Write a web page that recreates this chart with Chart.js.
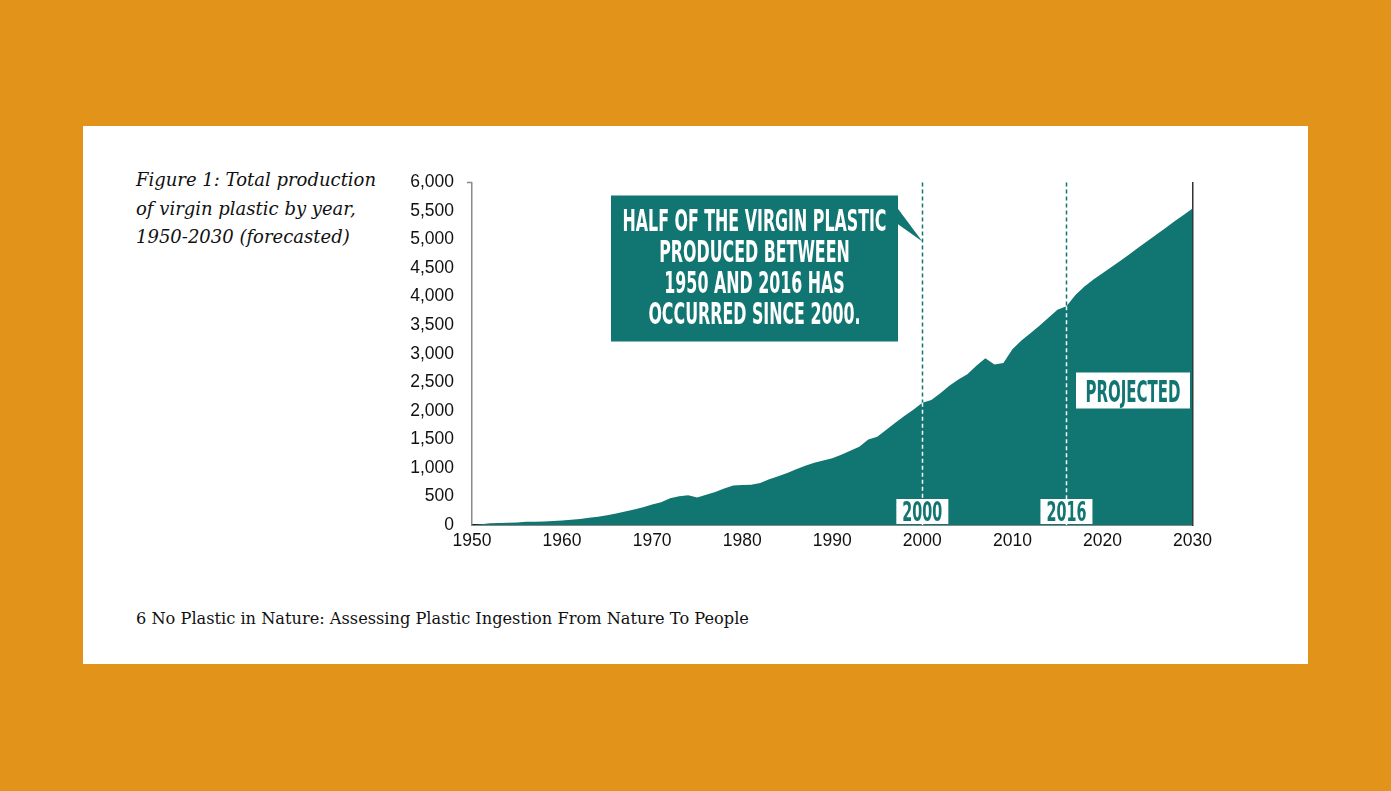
<!DOCTYPE html>
<html>
<head>
<meta charset="utf-8">
<script src="https://cdn.jsdelivr.net/npm/chart.js@4.4.1/dist/chart.umd.min.js"></script>
<style>
  html, body { margin: 0; padding: 0; }
  body { width: 1391px; height: 791px; background: #E2931A; position: relative; overflow: hidden; }
  #panel { position: absolute; left: 83px; top: 126px; width: 1225px; height: 538px; background: #fff; }
  #caption { position: absolute; left: 136px; top: 166px; font-family: "DejaVu Serif", serif; font-style: italic;
             font-size: 18px; line-height: 28.5px; color: #111; }
  #footer { position: absolute; left: 136px; top: 609px; font-family: "DejaVu Serif", serif; font-size: 16.2px; color: #111; }
  #wrap { position: absolute; left: 382px; top: 154px; width: 836px; height: 406px; }
</style>
</head>
<body>
<div id="panel"></div>
<div id="caption">Figure 1: Total production<br>of virgin plastic by year,<br>1950-2030 (forecasted)</div>
<div id="footer">6 No Plastic in Nature: Assessing Plastic Ingestion From Nature To People</div>
<div id="wrap"><canvas id="chart"></canvas></div>

<script>
// --- data ---
const years = [
  1950, 1951, 1952, 1953, 1954, 1955, 1956, 1957, 1958, 1959,
  1960, 1961, 1962, 1963, 1964, 1965, 1966, 1967, 1968, 1969,
  1970, 1971, 1972, 1973, 1974, 1975, 1976, 1977, 1978, 1979,
  1980, 1981, 1982, 1983, 1984, 1985, 1986, 1987, 1988, 1989,
  1990, 1991, 1992, 1993, 1994, 1995, 1996, 1997, 1998, 1999,
  2000, 2001, 2002, 2003, 2004, 2005, 2006, 2007, 2008, 2009,
  2010, 2011, 2012, 2013, 2014, 2015, 2016, 2017, 2018, 2019,
  2020, 2021, 2022, 2023, 2024, 2025, 2026, 2027, 2028, 2029, 2030
];
const production = [
  2, 15, 30, 35, 38, 42, 55, 58, 62, 70,
  80, 90, 105, 125, 145, 170, 200, 235, 270, 310,
  360, 400, 470, 505, 520, 480, 530, 580, 640, 690,
  700, 705, 735, 800, 855, 910, 975, 1040, 1090, 1130,
  1170, 1230, 1300, 1370, 1500, 1545, 1670, 1790, 1910, 2020,
  2140, 2190, 2310, 2440, 2550, 2640, 2790, 2920, 2810, 2840,
  3080, 3230, 3360, 3490, 3630, 3770, 3830, 4030, 4180, 4300,
  4410, 4520, 4630, 4745, 4860, 4975, 5090, 5205, 5320, 5430, 5545
];
const xTicks = [1950, 1960, 1970, 1980, 1990, 2000, 2010, 2020, 2030];
const yTicks = [0, 500, 1000, 1500, 2000, 2500, 3000, 3500, 4000, 4500, 5000, 5500, 6000];
const markerYears = [2000, 2016];
const calloutLines = ["HALF OF THE VIRGIN PLASTIC", "PRODUCED BETWEEN", "1950 AND 2016 HAS", "OCCURRED SINCE 2000."];
const projectedLabel = "PROJECTED";

const TEAL = "#117571";
const INK = "#111";
const CONDENSED = '"Liberation Sans Narrow", "DejaVu Sans Condensed", "Liberation Sans", sans-serif';

// draw squeezed bold caps so they look like the poster's condensed face
function condensedText(ctx, text, cx, cy, capH, scaleX) {
  const size = capH / 0.72;
  ctx.save();
  ctx.font = "bold " + size + "px " + CONDENSED;
  ctx.textAlign = "center";
  ctx.textBaseline = "alphabetic";
  ctx.translate(cx, cy + capH / 2);
  ctx.scale(scaleX, 1);
  ctx.fillText(text, 0, 0);
  ctx.restore();
}
function fitScale(ctx, text, capH, targetW) {
  ctx.save();
  ctx.font = "bold " + (capH / 0.72) + "px " + CONDENSED;
  const w = ctx.measureText(text).width;
  ctx.restore();
  return targetW / w;
}

const overlay = {
  id: "overlay",
  afterDatasetsDraw(chart) {
    const { ctx, chartArea: ca, scales: { x, y } } = chart;

    // small tick at the top of the y axis
    ctx.save();
    ctx.strokeStyle = "#8a8a8a";
    ctx.lineWidth = 1.5;
    ctx.beginPath();
    ctx.moveTo(ca.left - 5, ca.top);
    ctx.lineTo(ca.left, ca.top);
    ctx.stroke();

    // dashed year markers: teal above the area, white inside it
    ctx.lineWidth = 1.5;
    ctx.setLineDash([4, 3]);
    markerYears.forEach((yr) => {
      const px = Math.round(x.getPixelForValue(yr)) + 0.5;
      const py = y.getPixelForValue(production[years.indexOf(yr)]);
      ctx.strokeStyle = TEAL;
      ctx.beginPath();
      ctx.moveTo(px, ca.top);
      ctx.lineTo(px, py);
      ctx.stroke();
      ctx.strokeStyle = "#fff";
      ctx.beginPath();
      ctx.moveTo(px, py);
      ctx.lineTo(px, ca.bottom);
      ctx.stroke();
    });
    ctx.setLineDash([]);

    // callout box with pointer to the 2000 line
    const bx = ca.left + 139, by = ca.top + 13, bw = 287, bh = 146;
    ctx.fillStyle = TEAL;
    ctx.fillRect(bx, by, bw, bh);
    ctx.beginPath();
    ctx.moveTo(bx + bw - 1, by + 12);
    ctx.lineTo(x.getPixelForValue(2000), ca.top + 59);
    ctx.lineTo(bx + bw - 1, by + 28);
    ctx.closePath();
    ctx.fill();
    ctx.fillStyle = "#fff";
    const s = fitScale(ctx, calloutLines[0], 22, 264);
    calloutLines.forEach((line, i) => {
      condensedText(ctx, line, bx + bw / 2, by + 24 + i * 31, 22, s);
    });

    // PROJECTED tag
    ctx.fillStyle = "#fff";
    ctx.fillRect(ca.left + 604, ca.top + 190, 114, 36);
    ctx.fillStyle = TEAL;
    condensedText(ctx, projectedLabel, ca.left + 661, ca.top + 208, 22,
                  fitScale(ctx, projectedLabel, 22, 95));

    // year tags sitting on the x axis
    markerYears.forEach((yr) => {
      const px = x.getPixelForValue(yr);
      const w = 52;
      ctx.fillStyle = "#fff";
      ctx.fillRect(px - w / 2, ca.bottom - 26, w, 25);
      ctx.fillStyle = TEAL;
      condensedText(ctx, String(yr), px, ca.bottom - 13.5, 19, fitScale(ctx, String(yr), 19, 40));
    });
    ctx.restore();
  }
};

new Chart(document.getElementById("chart"), {
  type: "line",
  data: {
    datasets: [{
      data: years.map((yr, i) => ({ x: yr, y: production[i] })),
      borderWidth: 0,
      borderColor: TEAL,
      backgroundColor: TEAL,
      pointRadius: 0,
      tension: 0,
      fill: "origin",
    }],
  },
  options: {
    responsive: true,
    maintainAspectRatio: false,
    animation: false,
    layout: { padding: { top: 12, right: 17, left: 0, bottom: 0 } },
    plugins: { legend: { display: false }, tooltip: { enabled: false } },
    scales: {
      x: {
        type: "linear",
        min: 1950,
        max: 2030,
        afterBuildTicks: (s) => { s.ticks = xTicks.map((v) => ({ value: v })); },
        afterFit: (s) => { s.height = 35; },
        ticks: { callback: (v) => String(v), color: INK, padding: 6, maxRotation: 0,
                 font: { family: "Liberation Sans, Arial, sans-serif", size: 17.5 } },
        grid: { display: false, drawTicks: false },
        border: { color: INK, width: 1.5 },
      },
      y: {
        min: 0,
        max: 6000,
        afterBuildTicks: (s) => { s.ticks = yTicks.map((v) => ({ value: v })); },
        afterFit: (s) => { s.width = 90; },
        ticks: { callback: (v) => v.toLocaleString("en-US"), color: INK, padding: 18,
                 font: { family: "Liberation Sans, Arial, sans-serif", size: 17.5 } },
        grid: { display: false, drawTicks: false },
        border: { color: "#8a8a8a", width: 1.5 },
      },
      y2: {
        position: "right",
        min: 0,
        max: 6000,
        afterFit: (s) => { s.width = 0; },
        ticks: { display: false },
        grid: { display: false, drawTicks: false },
        border: { color: "#333", width: 1.5 },
      },
    },
  },
  plugins: [overlay],
});
</script>
</body>
</html>
